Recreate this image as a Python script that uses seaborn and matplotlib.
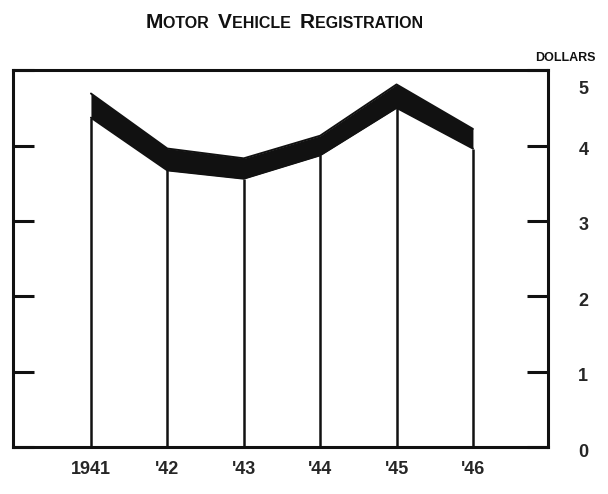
import matplotlib
matplotlib.use("Agg")
import matplotlib.pyplot as plt
import matplotlib.transforms as mtransforms
from matplotlib.offsetbox import TextArea, HPacker, AnnotationBbox
import seaborn as sns
import numpy as np
import pandas as pd

years = [1941, 1942, 1943, 1944, 1945, 1946]
year_labels = ["1941", "'42", "'43", "'44", "'45", "'46"]
upper = [4.69, 3.96, 3.83, 4.13, 4.81, 4.22]
lower = [4.37, 3.67, 3.56, 3.87, 4.50, 3.96]
y_ticks = [0, 1, 2, 3, 4, 5]
y_labels = ["0", "1", "2", "3", "4", "5"]
title_words = ["Motor", "Vehicle", "Registration"]

sns.set_style("white")
plt.rcParams['font.family'] = ['Liberation Sans', 'DejaVu Sans']

df = pd.DataFrame({"year": years, "upper": upper, "lower": lower})

fig = plt.figure(figsize=(6.08, 4.94), dpi=100)
ax = fig.add_axes([0.0214, 0.095, 0.8796, 0.763])

ax.fill_between(df["year"], df["lower"], df["upper"], color="#111111", linewidth=0)
sns.lineplot(data=df, x="year", y="upper", ax=ax, color="#111111", linewidth=1.4)
sns.lineplot(data=df, x="year", y="lower", ax=ax, color="#111111", linewidth=1.4)
ax.vlines(df["year"], 0, df["lower"], color="#111111", linewidth=1.8)

ax.set_xlim(1939.98, 1946.98)
ax.set_ylim(0, 5)
ax.set_xlabel("")
ax.set_ylabel("")

ax.set_xticks(years)
ax.set_xticklabels(year_labels, fontsize=13, fontweight="bold")
ax.tick_params(axis="x", length=0, pad=10)

ax.set_yticks(y_ticks)
ax.set_yticklabels(y_labels, fontsize=13, fontweight="bold")
ax.tick_params(axis="y", direction="in", left=True, right=True,
               labelleft=False, labelright=True, length=15, width=2.2,
               pad=22, color="#111111")

# nudge right-hand labels slightly below their ticks, "5" further down
for tick in ax.yaxis.get_major_ticks():
    lbl = tick.label2
    dy = -3 / 100
    if lbl.get_text() == "5":
        dy = -17 / 100
    lbl.set_transform(lbl.get_transform() + mtransforms.ScaledTranslation(0, dy, fig.dpi_scale_trans))

for s in ax.spines.values():
    s.set_visible(True)
    s.set_linewidth(2.2)
    s.set_color("#111111")

# small-caps style title
parts = []
for w in title_words:
    parts.append(TextArea(w[0].upper(), textprops=dict(fontsize=15, fontweight="bold", color="#111111")))
    parts.append(TextArea(w[1:].upper() + "  ", textprops=dict(fontsize=11.5, fontweight="bold", color="#111111")))
box = HPacker(children=parts, align="baseline", pad=0, sep=0)
ab = AnnotationBbox(box, (0.475, 0.955), xycoords="figure fraction", frameon=False,
                    box_alignment=(0.5, 0.5))
fig.add_artist(ab)

fig.text(0.93, 0.883, "DOLLARS", ha="center", va="center",
         fontsize=9, fontweight="bold", color="#111111")

fig.savefig("out.png", dpi=100, facecolor="white")
